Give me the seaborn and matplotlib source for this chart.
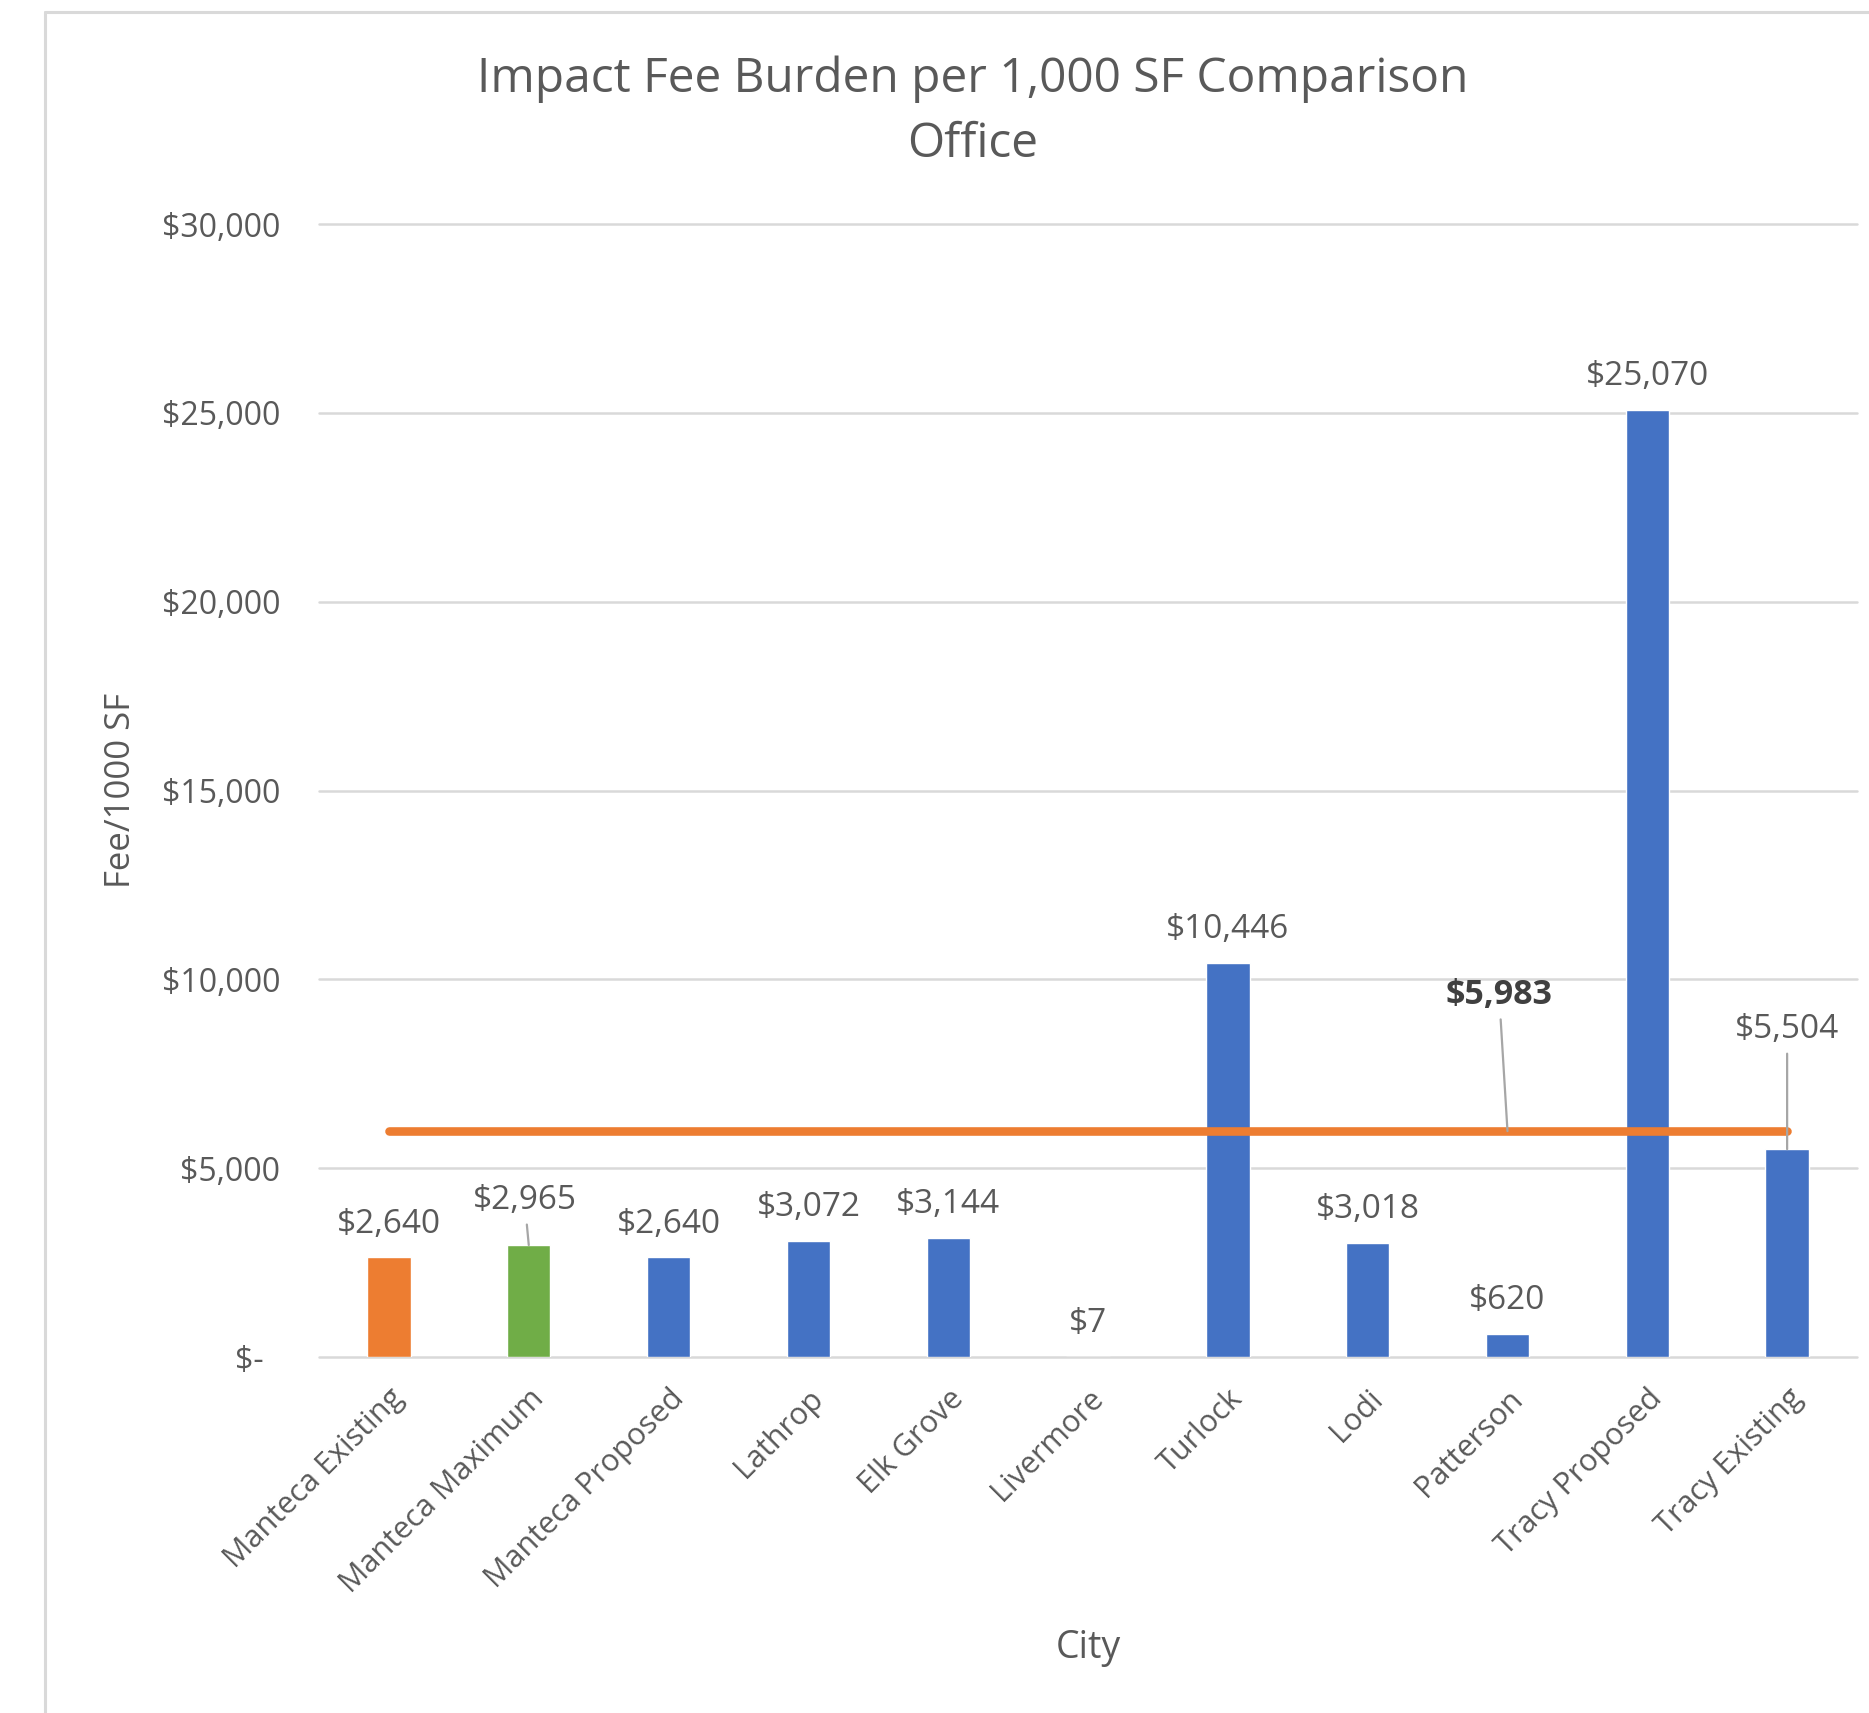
import matplotlib
matplotlib.use("Agg")
import matplotlib.pyplot as plt
from matplotlib.lines import Line2D
import seaborn as sns
import pandas as pd

# Office impact fee per 1,000 SF by city
cities = ["Manteca Existing", "Manteca Maximum", "Manteca Proposed", "Lathrop",
          "Elk Grove", "Livermore", "Turlock", "Lodi", "Patterson",
          "Tracy Proposed", "Tracy Existing"]
fees = [2640, 2965, 2640, 3072, 3144, 7, 10446, 3018, 620, 25070, 5504]
bar_colors = ["#ED7D31", "#70AD47", "#4472C4", "#4472C4", "#4472C4", "#4472C4",
              "#4472C4", "#4472C4", "#4472C4", "#4472C4", "#4472C4"]
average_fee = 5983
y_ticks = [0, 5000, 10000, 15000, 20000, 25000, 30000]
y_tick_labels = ["$-  ", "$5,000", "$10,000", "$15,000", "$20,000", "$25,000", "$30,000"]

TEXT = "#595959"
GRID = "#D9D9D9"
LEADER = "#A6A6A6"

sns.set_theme(style="white")
plt.rcParams["font.family"] = ["Open Sans", "DejaVu Sans"]

fig = plt.figure(figsize=(18.69, 17.13), dpi=100)
ax = fig.add_axes([0.1707, 0.2078, 0.8229, 0.6614])

df = pd.DataFrame({"City": cities, "Fee": fees})
sns.barplot(data=df, x="City", y="Fee", hue="City", palette=bar_colors,
            legend=False, width=0.31, saturation=1, ax=ax, zorder=2)

n = len(cities)
positions = list(range(n))

# average fee line across all cities
ax.plot(positions, [average_fee] * n, color="#ED7D31", lw=6.2,
        solid_capstyle="round", zorder=4)

ax.set_xlim(-0.5, n - 0.5)
ax.set_ylim(0, 30000)
ax.set_yticks(y_ticks)
ax.set_yticklabels(y_tick_labels)
ax.set_xticks(positions)
ax.set_xticklabels(cities, rotation=45, ha="right", rotation_mode="anchor")
ax.tick_params(axis="y", length=0, pad=28, labelsize=23, labelcolor=TEXT)
ax.tick_params(axis="x", length=0, pad=19, labelsize=22, labelcolor=TEXT)

ax.yaxis.grid(True, color=GRID, lw=1.8, zorder=0)
ax.set_axisbelow(True)
for gl in ax.get_ygridlines():
    gl.set_clip_on(False)
for s in ax.spines.values():
    s.set_visible(False)

ax.set_ylabel("Fee/1000 SF", fontsize=25, color=TEXT)
ax.yaxis.set_label_coords(-0.118, 0.5)
ax.set_xlabel("City", fontsize=27, color=TEXT)
ax.xaxis.set_label_coords(0.5, -0.24)

# value labels above each bar
offsets = {1: (-3, 32), 10: (0, 86)}
for i, v in enumerate(fees):
    dx, dy = offsets.get(i, (0, 24))
    kw = {}
    if i in offsets:
        kw["arrowprops"] = dict(arrowstyle="-", color=LEADER, lw=1.6,
                                shrinkA=3, shrinkB=0)
    ax.annotate(f"${v:,}", xy=(i, v), xytext=(dx, dy), textcoords="offset points",
                ha="center", va="center", fontsize=24, color=TEXT, zorder=5, **kw)

# average label with leader
ax.annotate(f"${average_fee:,}", xy=(8, average_fee), xytext=(-6, 98),
            textcoords="offset points", ha="center", va="center", fontsize=24.5,
            fontweight="bold", color="#404040", zorder=5,
            arrowprops=dict(arrowstyle="-", color=LEADER, lw=1.6, shrinkA=3, shrinkB=0))

fig.text(0.5206, 0.9349, "Impact Fee Burden per 1,000 SF Comparison\nOffice",
         ha="center", va="center", fontsize=34.5, color=TEXT, linespacing=1.48)

# chart-area frame
fig.add_artist(Line2D([0.0241, 0.0241], [0, 0.993], color=GRID, lw=2.2,
                      transform=fig.transFigure))
fig.add_artist(Line2D([0.0241, 1.0], [0.993, 0.993], color=GRID, lw=2.2,
                      transform=fig.transFigure))

fig.savefig("out.png", dpi=100, facecolor="white")
